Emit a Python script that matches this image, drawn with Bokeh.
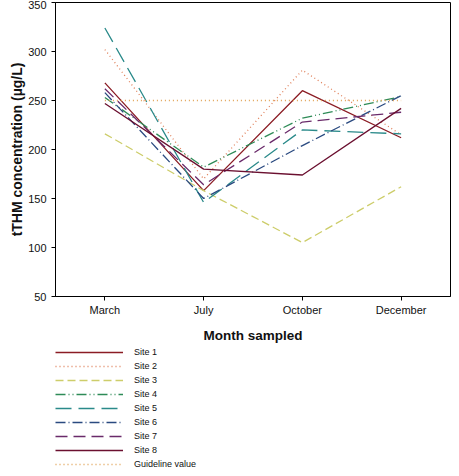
from bokeh.plotting import figure
from bokeh.layouts import column
from bokeh.models import Range1d, Legend, LegendItem, FixedTicker
from bokeh.embed import file_html
from bokeh.resources import INLINE

months = ["March", "July", "October", "December"]
y_ticks = [50, 100, 150, 200, 250, 300, 350]

site1 = [268, 158, 260, 212]
site2 = [302, 170, 281, 215]
site3 = [216, 158, 105, 162]
site4 = [253, 182, 232, 254]
site5 = [324, 146, 220, 216]
site6 = [258, 150, 204, 255]
site7 = [262, 164, 228, 238]
site8 = [247, 180, 174, 242]
guideline = [250, 250, 250, 250]

series = [
    ("Site 1", site1, "#8B1C24", "solid"),
    ("Site 2", site2, "#E0805A", "1 3"),
    ("Site 3", site3, "#CDCD6A", "8 4"),
    ("Site 4", site4, "#2E8B57", "10 3 1 3 1 3"),
    ("Site 5", site5, "#2A8A8A", "16 7"),
    ("Site 6", site6, "#2A4A80", "10 3 1 3"),
    ("Site 7", site7, "#6A2A6A", "12 6"),
    ("Site 8", site8, "#6B1030", "solid"),
    ("Guideline value", guideline, "#E0A050", "1 3"),
]

FONT = "Liberation Sans"

p = figure(width=451, height=345, x_range=months, y_range=Range1d(50, 350),
           output_backend="svg", toolbar_location=None,
           min_border_top=2, min_border_right=1, min_border_left=0,
           min_border_bottom=0)

p.outline_line_color = "black"
p.outline_line_width = 1
p.xgrid.visible = False
p.ygrid.visible = False

for name, vals, color, dash in series:
    p.line(months, vals, line_color=color, line_width=1.3, line_dash=dash)

p.yaxis.ticker = FixedTicker(ticks=y_ticks)
for ax in (p.xaxis[0], p.yaxis[0]):
    ax.axis_line_color = "black"
    ax.major_tick_line_color = "black"
    ax.major_tick_in = 0
    ax.major_tick_out = 4
    ax.minor_tick_line_color = None
    ax.major_label_text_font = FONT
    ax.major_label_text_font_size = "11px"
    ax.major_label_text_color = "#111111"
    ax.axis_label_text_font = FONT
    ax.axis_label_text_font_style = "bold"
    ax.axis_label_text_color = "#111111"

p.xaxis.axis_label = "Month sampled"
p.xaxis.axis_label_text_font_size = "13.5px"
p.xaxis.major_label_standoff = 3
p.xaxis.axis_label_standoff = 9

p.yaxis.axis_label = "tTHM concentration (µg/L)"
p.yaxis.axis_label_text_font_size = "14px"
p.yaxis.major_label_standoff = 5
p.yaxis.axis_label_standoff = 0

# legend panel (proxy renderers carry the same series; hidden)
q = figure(width=451, height=123, x_range=months, y_range=Range1d(50, 350),
           output_backend="svg", toolbar_location=None,
           x_axis_location=None, y_axis_location=None,
           min_border_top=0, min_border_right=0, min_border_left=55,
           min_border_bottom=0)
q.outline_line_color = None
q.xgrid.visible = False
q.ygrid.visible = False

items = []
for name, vals, color, dash in series:
    r = q.line(months, vals, line_color=color, line_width=1.3, line_dash=dash,
               visible=False)
    items.append(LegendItem(label=name, renderers=[r]))

legend = Legend(items=items, location="top_left", orientation="vertical",
                padding=0, margin=0, spacing=0, click_policy="none",
                glyph_width=68, glyph_height=14, label_height=14,
                label_standoff=11, label_text_font=FONT,
                label_text_font_size="9px", label_text_color="#111111",
                border_line_color=None, background_fill_alpha=0)
q.add_layout(legend)

layout = column(p, q, spacing=0)
open("out.html", "w").write(file_html(layout, INLINE))
